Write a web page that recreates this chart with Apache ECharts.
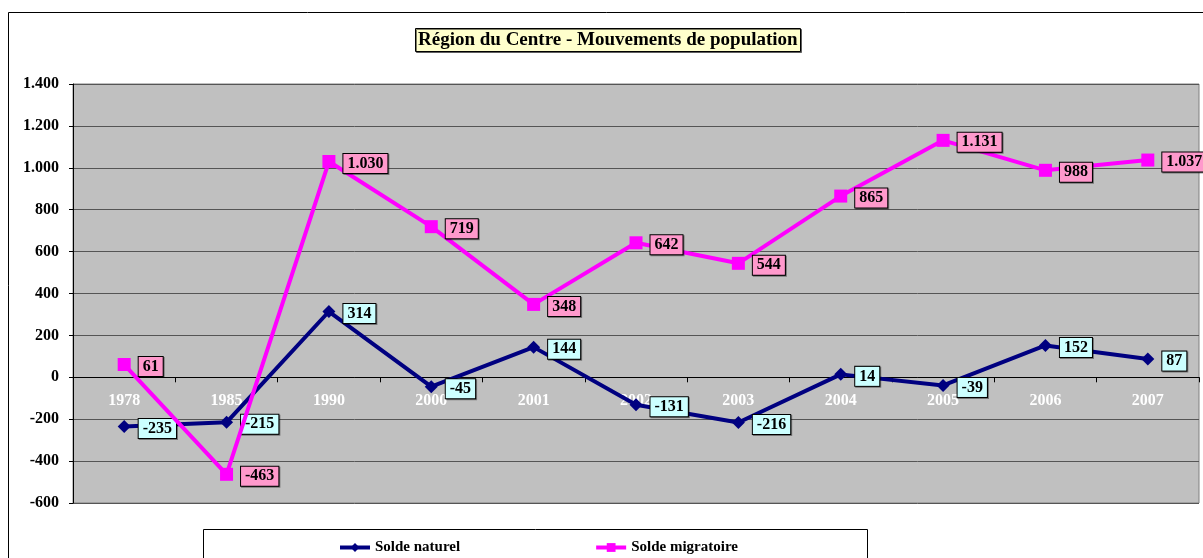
<!DOCTYPE html>
<html><head><meta charset="utf-8">
<script src="https://cdn.jsdelivr.net/npm/echarts@6/dist/echarts.min.js"></script>
<style>html,body{margin:0;padding:0;background:#fff}#c{width:1203px;height:558px}</style>
</head><body><div id="c"></div>
<script>
const categories = ['1978','1985','1990','2000','2001','2002','2003','2004','2005','2006','2007'];
const soldeNaturel = [-235,-215,314,-45,144,-131,-216,14,-39,152,87];
const soldeMigratoire = [61,-463,1030,719,348,642,544,865,1131,988,1037];
const titleText = 'Région du Centre - Mouvements de population';
const seriesNames = ['Solde naturel','Solde migratoire'];

const FONT = '"Liberation Serif","Times New Roman",serif';
function fmt(v){
  const s = Math.abs(v).toString().replace(/\B(?=(\d{3})+(?!\d))/g,'.');
  return (v<0?'-':'')+s;
}
function lbl(bg){
  return {show:true,position:'right',distance:8,offset:[0,2],formatter:p=>fmt(p.value),
    fontFamily:FONT,fontWeight:'bold',fontSize:16,color:'#000',
    backgroundColor:bg,borderColor:'#000',borderWidth:1,padding:[2,4,1,4],
    shadowColor:'rgba(0,0,0,0.4)',shadowOffsetX:1,shadowOffsetY:1,shadowBlur:0};
}
const gridTop = 84, gridBottomPx = 503, yMin = -600, yMax = 1400;
const zeroOffset = (gridBottomPx-gridTop)*(0-yMin)/(yMax-yMin);
const chart = echarts.init(document.getElementById('c'),null,{renderer:'canvas'});
chart.setOption({
  animation:false,
  backgroundColor:'#fff',
  graphic:[
    {type:'rect',shape:{x:8.5,y:12.5,width:1220,height:600},style:{fill:'none',stroke:'#000',lineWidth:1},z:-10,silent:true},
    {type:'rect',shape:{x:203.5,y:529.5,width:664,height:60},style:{fill:'#fff',stroke:'#000',lineWidth:1},z:-5,silent:true}
  ],
  title:{text:titleText,left:415,top:28,
    textStyle:{fontFamily:FONT,fontWeight:'bold',fontSize:19,color:'#000'},
    backgroundColor:'#FFFFCC',borderColor:'#000',borderWidth:1,padding:[3,3,2,3],
    shadowColor:'rgba(0,0,0,0.5)',shadowOffsetX:1,shadowOffsetY:1,shadowBlur:0},
  legend:{data:seriesNames,left:333,top:535,itemWidth:30,itemHeight:11,itemGap:134,
    lineStyle:{width:4},
    textStyle:{fontFamily:FONT,fontWeight:'bold',fontSize:15,color:'#000'}},
  grid:{left:73,right:4,top:gridTop,bottom:558-gridBottomPx,show:true,backgroundColor:'#C0C0C0',borderColor:'#808080',borderWidth:1},
  xAxis:[{type:'category',data:categories,boundaryGap:true,
    axisLine:{onZero:true,lineStyle:{color:'#000',width:1}},
    axisTick:{show:true,length:5,lineStyle:{color:'#000'}},
    axisLabel:{show:false},
    splitLine:{show:false}},
   {type:'category',data:categories,boundaryGap:true,position:'bottom',offset:-zeroOffset,
    axisLine:{show:false,onZero:false},axisTick:{show:false},
    axisLabel:{color:'#fff',fontFamily:FONT,fontWeight:'bold',fontSize:16,margin:16},
    splitLine:{show:false}}],
  yAxis:{type:'value',min:yMin,max:yMax,interval:200,
    axisLine:{show:true,lineStyle:{color:'#000'}},
    axisTick:{show:true,length:4,lineStyle:{color:'#000'}},
    axisLabel:{color:'#000',fontFamily:FONT,fontWeight:'bold',fontSize:16,margin:14,formatter:v=>fmt(v)},
    splitLine:{show:true,lineStyle:{color:'#555',width:1}}},
  series:[
    {name:seriesNames[0],type:'line',data:soldeNaturel,symbol:'diamond',symbolSize:13,
      lineStyle:{color:'#000080',width:4},itemStyle:{color:'#000080'},label:lbl('#CCFFFF'),z:3},
    {name:seriesNames[1],type:'line',data:soldeMigratoire,symbol:'rect',symbolSize:13,
      lineStyle:{color:'#FF00FF',width:4},itemStyle:{color:'#FF00FF'},label:lbl('#FF99CC'),z:4}
  ]
});
</script></body></html>
